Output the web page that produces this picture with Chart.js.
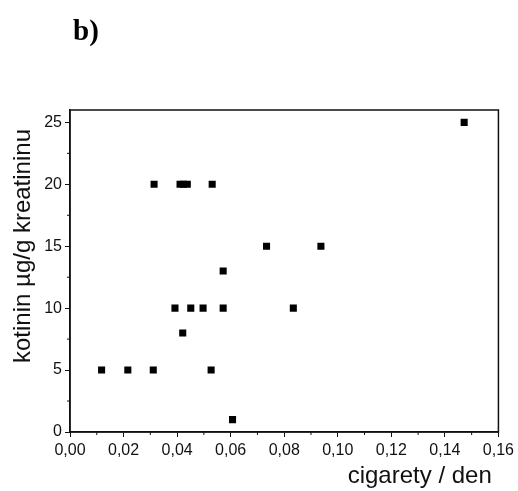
<!DOCTYPE html>
<html>
<head>
<meta charset="utf-8">
<script src="https://cdn.jsdelivr.net/npm/chart.js@4"></script>
<style>
  html, body { margin: 0; padding: 0; background: #fff; }
  #wrap { position: relative; width: 518px; height: 491px; }
  #panel { position: absolute; left: 73px; top: 14px; font: bold 29px "Liberation Serif", serif; color: #000; }
</style>
</head>
<body>
<div id="wrap">
  <div id="panel">b)</div>
  <canvas id="chart" width="518" height="491"></canvas>
</div>
<script>
// data
const cigarety = [0.0118, 0.0216, 0.0311, 0.0527, 0.0607,
                  0.0421,
                  0.0392, 0.0451, 0.0497, 0.0572, 0.0834,
                  0.0572,
                  0.0734, 0.0937,
                  0.0314, 0.0411, 0.0424, 0.0438, 0.0531,
                  0.1472];
const kotinin = [5, 5, 5, 5, 1,
                 8,
                 10, 10, 10, 10, 10,
                 13,
                 15, 15,
                 20, 20, 20, 20, 20,
                 25];
const xTicks = [0, 0.02, 0.04, 0.06, 0.08, 0.10, 0.12, 0.14, 0.16];
const yTicks = [0, 5, 10, 15, 20, 25];
const xLabel = 'cigarety / den';
const yLabel = 'kotinin µg/g kreatininu';

const ink = '#111';
const fontFam = '"Liberation Sans", Arial, sans-serif';

// frame, minor ticks and y title
const framePlugin = {
    id: 'frame',
    afterDraw(chart) {
        const c = chart.ctx;
        const a = chart.chartArea;
        const xs = chart.scales.x, ys = chart.scales.y;
        c.save();
        c.strokeStyle = ink;
        c.lineWidth = 1.5;
        c.strokeRect(a.left, a.top, a.right - a.left, a.bottom - a.top);
        // minor ticks
        c.lineWidth = 1;
        c.beginPath();
        for (let i = 0; i < xTicks.length - 1; i++) {
            const px = xs.getPixelForValue((xTicks[i] + xTicks[i + 1]) / 2);
            c.moveTo(px, a.bottom);
            c.lineTo(px, a.bottom + 3);
        }
        for (let i = 0; i < yTicks.length - 1; i++) {
            const py = ys.getPixelForValue((yTicks[i] + yTicks[i + 1]) / 2);
            c.moveTo(a.left, py);
            c.lineTo(a.left - 3, py);
        }
        c.stroke();
        // y title
        c.translate(23, 246);
        c.rotate(-Math.PI / 2);
        c.fillStyle = ink;
        c.font = '24px ' + fontFam;
        c.textAlign = 'center';
        c.textBaseline = 'middle';
        c.fillText(yLabel, 0, 0);
        c.restore();
    }
};

const ctx = document.getElementById('chart').getContext('2d');
const chart = new Chart(ctx, {
    type: 'scatter',
    data: {
        datasets: [{
            data: cigarety.map((x, i) => ({ x: x, y: kotinin[i] })),
            backgroundColor: '#000',
            borderWidth: 0,
            pointStyle: 'rect',
            pointRadius: 5,
            pointHoverRadius: 5
        }]
    },
    options: {
        responsive: false,
        animation: false,
        layout: { padding: { top: 110, right: 18, left: 0, bottom: 0 } },
        plugins: { legend: { display: false }, tooltip: { enabled: false } },
        scales: {
            x: {
                type: 'linear',
                min: 0,
                max: 0.16,
                afterFit: (s) => { s.height = 59; },
                afterBuildTicks: (s) => { s.ticks = xTicks.map(v => ({ value: v })); },
                ticks: {
                    color: ink,
                    padding: 4,
                    maxRotation: 0,
                    font: { family: fontFam, size: 16 },
                    callback: (v) => v.toFixed(2).replace('.', ',')
                },
                grid: { drawOnChartArea: false, tickLength: 5, color: ink, lineWidth: 1 },
                border: { color: ink, width: 1.5 },
                title: {
                    display: true,
                    text: xLabel + ' ',
                    align: 'end',
                    color: ink,
                    padding: { top: 0, bottom: 0 },
                    font: { family: fontFam, size: 24 }
                }
            },
            y: {
                type: 'linear',
                min: 0,
                max: 26,
                afterFit: (s) => { s.width = 70; },
                afterBuildTicks: (s) => { s.ticks = yTicks.map(v => ({ value: v })); },
                ticks: {
                    color: ink,
                    padding: 3,
                    font: { family: fontFam, size: 16 }
                },
                grid: { drawOnChartArea: false, tickLength: 5, color: ink, lineWidth: 1 },
                border: { color: ink, width: 1.5 }
            }
        }
    },
    plugins: [framePlugin]
});
</script>
</body>
</html>
